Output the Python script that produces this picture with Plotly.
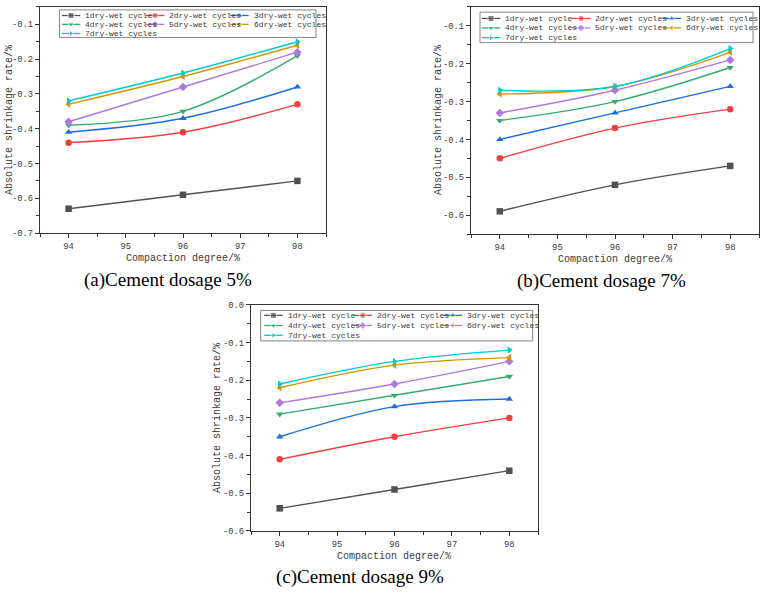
import plotly.graph_objects as go

# ---------------- data ----------------
compaction = [94, 96, 98]
series_names = ["1dry-wet cycle", "2dry-wet cycles", "3dry-wet cycles",
                "4dry-wet cycles", "5dry-wet cycles", "6dry-wet cycles",
                "7dry-wet cycles"]

shrink_5pct = [
    [-0.63, -0.59, -0.55],
    [-0.44, -0.41, -0.33],
    [-0.41, -0.37, -0.28],
    [-0.39, -0.35, -0.19],
    [-0.38, -0.28, -0.18],
    [-0.33, -0.25, -0.16],
    [-0.32, -0.24, -0.15],
]
shrink_7pct = [
    [-0.59, -0.52, -0.47],
    [-0.45, -0.37, -0.32],
    [-0.40, -0.33, -0.26],
    [-0.35, -0.30, -0.21],
    [-0.33, -0.27, -0.19],
    [-0.28, -0.26, -0.17],
    [-0.27, -0.26, -0.16],
]
shrink_9pct = [
    [-0.54, -0.49, -0.44],
    [-0.41, -0.35, -0.30],
    [-0.35, -0.27, -0.25],
    [-0.29, -0.24, -0.19],
    [-0.26, -0.21, -0.15],
    [-0.22, -0.16, -0.14],
    [-0.21, -0.15, -0.12],
]

x_ticks = [94, 95, 96, 97, 98]
y_ticks_a = [-0.7, -0.6, -0.5, -0.4, -0.3, -0.2, -0.1]
y_ticks_b = [-0.6, -0.5, -0.4, -0.3, -0.2, -0.1]
y_ticks_c = [-0.6, -0.5, -0.4, -0.3, -0.2, -0.1, 0.0]
y_labels_a = ["-0.7", "-0.6", "-0.5", "-0.4", "-0.3", "-0.2", "-0.1"]
y_labels_b = ["-0.6", "-0.5", "-0.4", "-0.3", "-0.2", "-0.1"]
y_labels_c = ["-0.6", "-0.5", "-0.4", "-0.3", "-0.2", "-0.1", "0.0"]

captions = ["(a)Cement dosage 5%", "(b)Cement dosage 7%", "(c)Cement dosage 9%"]

# ---------------- style ----------------
colors = ["#515151", "#F14040", "#1A6FDF", "#37AD6B", "#B177DE", "#CC9900", "#00CBCC"]
symbols = ["square", "circle", "triangle-up", "triangle-down", "diamond",
           "triangle-left", "triangle-right"]

W, H = 761, 594
MONO = "Liberation Mono"
SERIF = "Liberation Serif"
AX_COLOR = "#333333"
TXT_COLOR = "#3a3a3a"

panels = [
    dict(data=shrink_5pct, box=(40, 3, 326, 233), yr=(-0.7, -0.05),
         yt=y_ticks_a, yl=y_labels_a, cap=(168, 281), xtitle=(183, 259), ytitle=(9, 118),
         leg=dict(box=(59.5, 6, 316, 34), texts=[83.3, 167.3, 251.7], rows=[11.7, 20.7, 30])),
    dict(data=shrink_7pct, box=(471, 3, 759, 234), yr=(-0.65, -0.05),
         yt=y_ticks_b, yl=y_labels_b, cap=(601, 282), xtitle=(615, 260), ytitle=(438, 118),
         leg=dict(box=(480, 8.3, 753, 39.3), texts=[503.3, 593.3, 684], rows=[14.7, 24.3, 34.3])),
    dict(data=shrink_9pct, box=(251, 306, 538, 536), yr=(-0.6, 0.0),
         yt=y_ticks_c, yl=y_labels_c, cap=(360, 583), xtitle=(394, 562), ytitle=(218, 421),
         leg=dict(box=(260.7, 311.7, 532.7, 342.7), texts=[285.7, 375, 465], rows=[316.7, 327, 337])),
]

fig = go.Figure()
layout = dict(width=W, height=H, margin=dict(l=0, r=0, t=0, b=0),
              paper_bgcolor="white", plot_bgcolor="rgba(0,0,0,0)",
              showlegend=False)
annotations = []
shapes = []

# pixel overlay axis for legend glyphs / captions
PIX = len(panels) + 1
layout[f"xaxis{PIX}"] = dict(domain=[0, 1], range=[0, W], visible=False, fixedrange=True)
layout[f"yaxis{PIX}"] = dict(domain=[0, 1], range=[H, 0], visible=False, fixedrange=True,
                              anchor=f"x{PIX}")

for i, p in enumerate(panels):
    k = i + 1
    xa, ya = f"x{k}", f"y{k}"
    l, t, r, b = p["box"]
    for s in range(len(series_names)):
        fig.add_trace(go.Scatter(
            x=compaction, y=p["data"][s], mode="lines+markers",
            name=series_names[s], xaxis=xa, yaxis=ya,
            line=dict(color=colors[s], width=1.4, shape="spline", smoothing=1.0),
            marker=dict(symbol=symbols[s], size=6.5, color=colors[s])))
    axis_common = dict(showline=True, mirror=True, linecolor=AX_COLOR, linewidth=1.2,
                       showgrid=False, zeroline=False, ticks="outside", ticklen=4,
                       tickwidth=1, tickcolor=AX_COLOR,
                       tickfont=dict(family=MONO, size=8.8, color=TXT_COLOR))
    layout[f"xaxis{k}"] = dict(
        axis_common, domain=[l / W, r / W], range=[93.5, 98.5], anchor=ya,
        tickmode="array", tickvals=x_ticks, ticktext=[str(v) for v in x_ticks],
        minor=dict(tickmode="linear", tick0=93.5, dtick=0.5, ticks="outside",
                   ticklen=2.5, tickcolor=AX_COLOR))
    layout[f"yaxis{k}"] = dict(
        axis_common, domain=[1 - b / H, 1 - t / H], range=list(p["yr"]), anchor=xa,
        tickmode="array", tickvals=p["yt"], ticktext=p["yl"],
        minor=dict(tickmode="linear", tick0=0, dtick=0.05, ticks="outside",
                   ticklen=2.5, tickcolor=AX_COLOR))

    # axis titles and caption
    annotations.append(dict(x=p["xtitle"][0], y=p["xtitle"][1], xref=f"x{PIX}", yref=f"y{PIX}",
                            text="Compaction degree/%", showarrow=False,
                            font=dict(family=MONO, size=10, color=TXT_COLOR)))
    annotations.append(dict(x=p["ytitle"][0], y=p["ytitle"][1], xref=f"x{PIX}", yref=f"y{PIX}",
                            text="Absolute shrinkage rate/%", showarrow=False, textangle=-90,
                            font=dict(family=MONO, size=10, color=TXT_COLOR)))
    annotations.append(dict(x=p["cap"][0], y=p["cap"][1], xref=f"x{PIX}", yref=f"y{PIX}",
                            text=captions[i], showarrow=False,
                            font=dict(family=SERIF, size=19, color="black")))

    # custom compact legend
    lg = p["leg"]
    bl, bt, br, bb = lg["box"]
    shapes.append(dict(type="rect", xref=f"x{PIX}", yref=f"y{PIX}", x0=bl, y0=bt, x1=br, y1=bb,
                       line=dict(color="#666666", width=0.8), fillcolor="white", layer="below"))
    for s in range(len(series_names)):
        col, row = s % 3, s // 3
        tx = lg["texts"][col]
        ty = lg["rows"][row]
        fig.add_trace(go.Scatter(
            x=[tx - 21.5, tx - 12.3, tx - 3], y=[ty, ty, ty], mode="lines+markers",
            xaxis=f"x{PIX}", yaxis=f"y{PIX}", hoverinfo="skip", showlegend=False,
            line=dict(color=colors[s], width=1.3),
            marker=dict(symbol=symbols[s], size=[0, 6, 0], color=colors[s])))
        annotations.append(dict(x=tx, y=ty, xref=f"x{PIX}", yref=f"y{PIX}",
                                text=series_names[s], showarrow=False,
                                xanchor="left", yanchor="middle",
                                font=dict(family=MONO, size=8, color=TXT_COLOR)))

layout["annotations"] = annotations
layout["shapes"] = shapes
fig.update_layout(**layout)
fig.write_html("out.html")
